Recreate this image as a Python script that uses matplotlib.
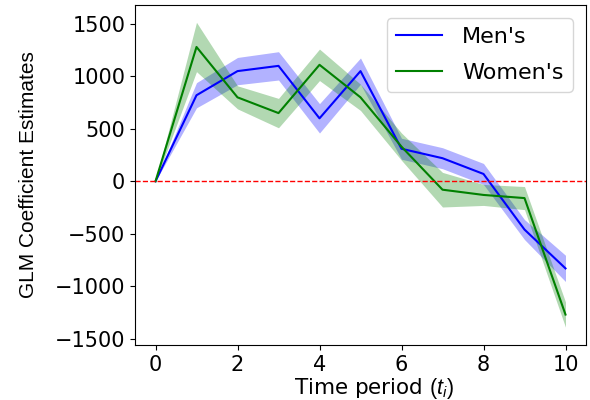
import matplotlib
matplotlib.use("Agg")
import matplotlib.pyplot as plt
import numpy as np

t = list(range(11))
men = [0, 820, 1050, 1100, 600, 1050, 310, 220, 70, -460, -830]
men_err = [0, 120, 130, 135, 140, 125, 100, 100, 100, 95, 125]
women = [0, 1280, 800, 650, 1110, 800, 330, -80, -130, -160, -1270]
women_err = [0, 235, 110, 140, 150, 125, 130, 165, 100, 110, 120]
yticks = [-1500, -1000, -500, 0, 500, 1000, 1500]
xticks = [0, 2, 4, 6, 8, 10]

plt.rcParams['mathtext.fontset'] = 'custom'
plt.rcParams['mathtext.it'] = 'Liberation Sans:italic'
plt.rcParams['mathtext.rm'] = 'Liberation Sans'

fig = plt.figure(figsize=(5.9, 4.0), dpi=100)
ax = fig.add_axes([135/590, 55/400, 451/590, 340/400])

m = np.array(men); me = np.array(men_err)
w = np.array(women); we = np.array(women_err)
ax.plot(t, m, color='blue', label="Men's", lw=1.5)
ax.fill_between(t, m - me, m + me, color='blue', alpha=0.3, lw=0)
ax.plot(t, w, color='green', label="Women's", lw=1.5)
ax.fill_between(t, w - we, w + we, color='green', alpha=0.3, lw=0)
ax.axhline(0, color='red', ls='--', lw=1)

ax.set_xlim(-0.5, 10.5)
ax.set_ylim(-1560, 1680)
ax.set_xticks(xticks)
ax.set_yticks(yticks)
ax.tick_params(labelsize=15)
ax.set_xlabel(r"Time period $\mathit{(t_i)}$", fontsize=15.5, labelpad=1, x=0.53)
ax.set_ylabel("GLM Coefficient Estimates", fontsize=15, family='Liberation Sans', labelpad=12)
ax.legend(fontsize=16, handlelength=2.1, handletextpad=0.9, loc='upper right',
          borderaxespad=0.6, labelspacing=0.7)

fig.savefig('out.png', dpi=100)
